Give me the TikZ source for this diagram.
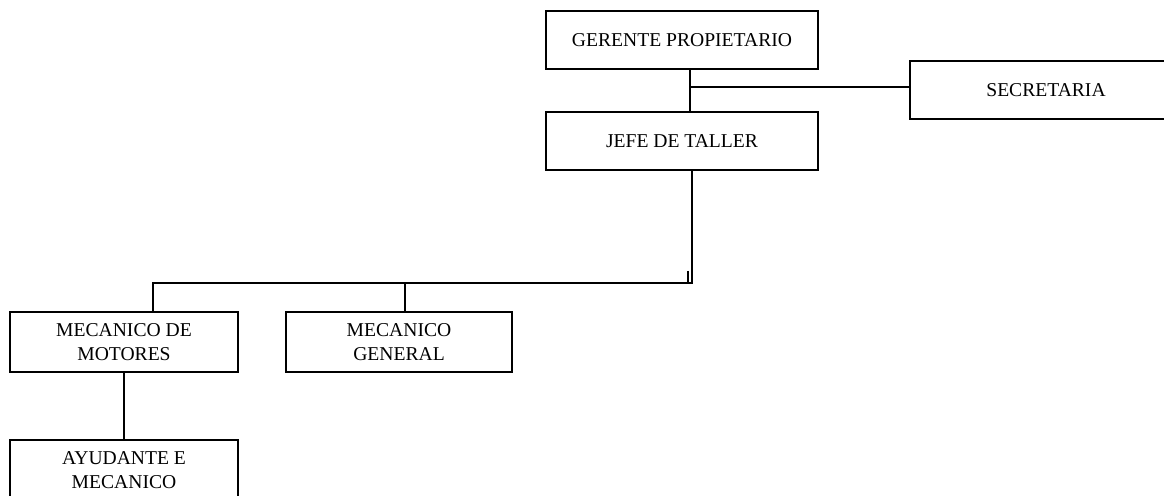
\documentclass[tikz,border=0pt]{standalone}
\usepackage{fontspec}
\setmainfont{Liberation Serif}
\usepackage{tikz}
\usetikzlibrary{positioning}

\tikzset{
  cargo/.style={draw, line width=0.8pt, rectangle, align=center,
    minimum width=136pt, minimum height=29pt, inner sep=0pt,
    font=\fontsize{9.8}{12}\selectfont},
  cargochico/.style={cargo, minimum width=114pt, minimum height=30pt},
  linea/.style={line width=0.8pt}
}

\begin{document}
\begin{tikzpicture}[x=0.5pt, y=-0.5pt]
\useasboundingbox (0,0) rectangle (1164,496);
\clip (0,0) rectangle (1164,496);

% Draw top boxes
\node[cargo] (gerente) at (682,40) {GERENTE PROPIETARIO};
\node[cargo] (jefe) at (682,141) {JEFE DE TALLER};
\node[cargo] (secretaria) at (1046,90) {SECRETARIA};

% Draw lower boxes
\node[cargochico] (mecmot) at (124,342) {MECANICO DE\\MOTORES};
\node[cargochico, minimum width=113pt] (mecgen) at (399,342) {MECANICO\\GENERAL};
\node[cargochico] (ayudante) at (124,470) {AYUDANTE E\\MECANICO};

% Draw connectors
\coordinate (t1) at (690,87);
\coordinate (t2) at (692,283);
\coordinate (b1) at (153,283);
\coordinate (b2) at (405,283);
\coordinate (tope) at (688,271);

\draw[linea] (gerente.south -| t1) -- (jefe.north -| t1);
\draw[linea] (t1) -- (secretaria.west |- t1);
\draw[linea] (jefe.south -| t2) -- (t2) -- (b1) -- (mecmot.north -| b1);
\draw[linea] (tope) -- (tope |- t2);
\draw[linea] (b2) -- (mecgen.north -| b2);
\draw[linea] (mecmot) -- (ayudante);

\end{tikzpicture}
\end{document}
